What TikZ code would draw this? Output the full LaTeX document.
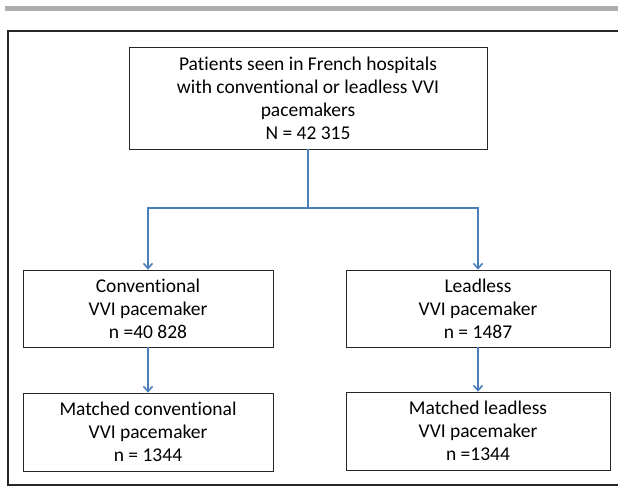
\documentclass[tikz,border=0pt]{standalone}
\usepackage{fontspec}
\setmainfont[Ligatures=NoCommon]{Carlito}
\usetikzlibrary{arrows.meta}
\definecolor{flowblue}{HTML}{4A7EBB}

\begin{document}
\begin{tikzpicture}[x=1pt,y=-1pt,
  box/.style={draw=black!85,line width=0.8pt,align=center,inner sep=0pt,
    minimum height=77pt,font=\fontsize{19.5}{23}\selectfont},
  flow/.style={draw=flowblue,line width=1.6pt},
  tip/.style={-{Straight Barb[length=5pt,width=9pt]}}]
\useasboundingbox (0,0) rectangle (618,487);
\fill[black!32] (5,6) rectangle (618,11);
\draw[line width=1.5pt,black!85] (618,31)--(8,31)--(8,485)--(618,485);

\node[box,minimum width=358pt,minimum height=102pt] (patients) at (308,98)
  {Patients seen in French hospitals\\with conventional or leadless VVI\\pacemakers\\N = 42 315};
\node[box,minimum width=250pt] (conv) at (148,308.5) {Conventional\\VVI pacemaker\\n =40 828};
\node[box,minimum width=264pt] (lless) at (478,308.5) {Leadless\\VVI pacemaker\\n = 1487};
\node[box,minimum width=250pt,minimum height=78pt] (mconv) at (148,432) {Matched conventional\\VVI pacemaker\\n = 1344};
\node[box,minimum width=264pt,minimum height=78pt] (mlless) at (478,431) {Matched leadless\\VVI pacemaker\\n =1344};

\coordinate (split) at (308,208);
\draw[flow] (patients) -- (split);
\draw[flow,tip] (split) -| (conv);
\draw[flow,tip] (split) -| (lless);
\draw[flow,tip] (conv) -- (mconv);
\draw[flow,tip] (lless) -- (mlless);
\end{tikzpicture}
\end{document}
